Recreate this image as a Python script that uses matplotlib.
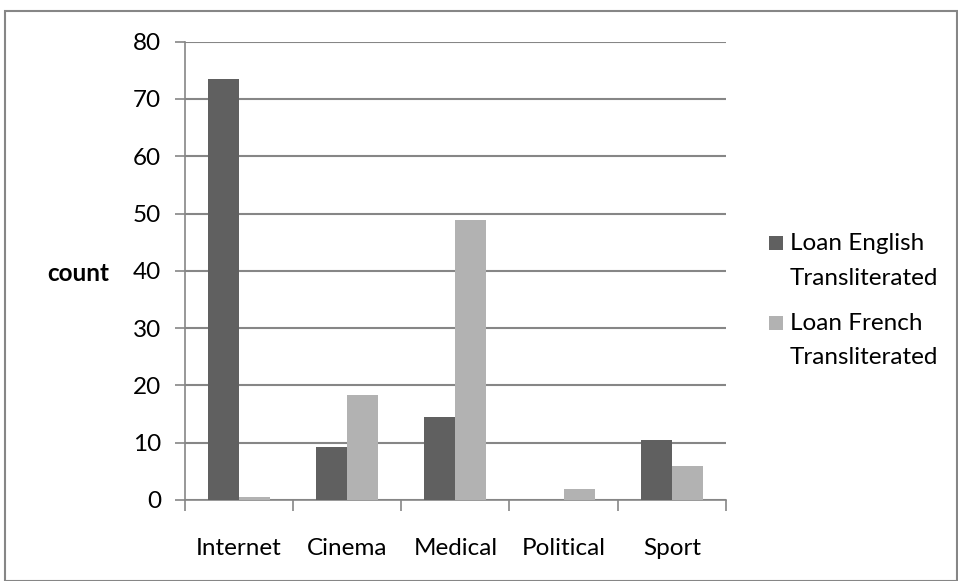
import matplotlib.pyplot as plt
import numpy as np
from matplotlib.patches import Rectangle

categories = ['Internet', 'Cinema', 'Medical', 'Political', 'Sport']
english = [73.4, 9.2, 14.5, 0.0, 10.5]
french = [0.6, 18.3, 48.8, 2.0, 5.9]
series_names = [['Loan English', 'Transliterated'], ['Loan French', 'Transliterated']]
yticks = [0, 10, 20, 30, 40, 50, 60, 70, 80]

plt.rcParams['font.family'] = ['Lato', 'DejaVu Sans']
grey = '#868686'
fs = 17.5

W, H = 958, 581
fig = plt.figure(figsize=(W / 100, H / 100), dpi=100)
ax = fig.add_axes([184.7 / W, 1 - 500 / H, (726 - 184.7) / W, (500 - 41.6) / H])

x = np.arange(len(categories))
bw = 1 / 3.5
b1 = ax.bar(x - bw / 2, english, bw, color='#606060', zorder=3)
b2 = ax.bar(x + bw / 2, french, bw, color='#b2b2b2', zorder=3)

ax.set_xlim(-0.5, len(categories) - 0.5)
ax.set_ylim(0, 80)
ax.set_yticks(yticks)
ax.yaxis.grid(True, color=grey, linewidth=1.5, zorder=0)
ax.tick_params(axis='y', length=7, width=1.2, color=grey, labelsize=fs, pad=10)

# category boundaries carry the x ticks; labels sit at the centres
ax.set_xticks(np.arange(len(categories) + 1) - 0.5)
ax.set_xticklabels([])
ax.tick_params(axis='x', length=8, width=1.2, color=grey)
for i, c in enumerate(categories):
    ax.text(i, -0.105, c, transform=ax.get_xaxis_transform(), ha='center', va='center', fontsize=fs)

for s in ['top', 'right']:
    ax.spines[s].set_visible(False)
for s in ['left', 'bottom']:
    ax.spines[s].set_color(grey)
    ax.spines[s].set_linewidth(1.2)

fig.text(78 / W, 1 - 273 / H, 'count', ha='center', va='center', fontsize=fs, fontweight='bold')

# legend: square beside the first line of each two-line label
def px(xp, yp):
    return xp / W, 1 - yp / H

for cont, lines, y0 in [(b1, series_names[0], 243), (b2, series_names[1], 323)]:
    sx, sy = px(769, y0 + 7)
    fig.patches.append(Rectangle((sx, sy), 14 / W, 14 / H, transform=fig.transFigure,
                                 facecolor=cont.patches[0].get_facecolor(), edgecolor='none'))
    for k, line in enumerate(lines):
        tx, ty = px(790, y0 + k * 35)
        fig.text(tx, ty, line, ha='left', va='center', fontsize=fs)

fig.patches.append(Rectangle((5 / W, 0), 1 - 6 / W, 1 - 11 / H, transform=fig.transFigure,
                             fill=False, edgecolor=grey, linewidth=1.5))

fig.savefig('out.png', dpi=100)
